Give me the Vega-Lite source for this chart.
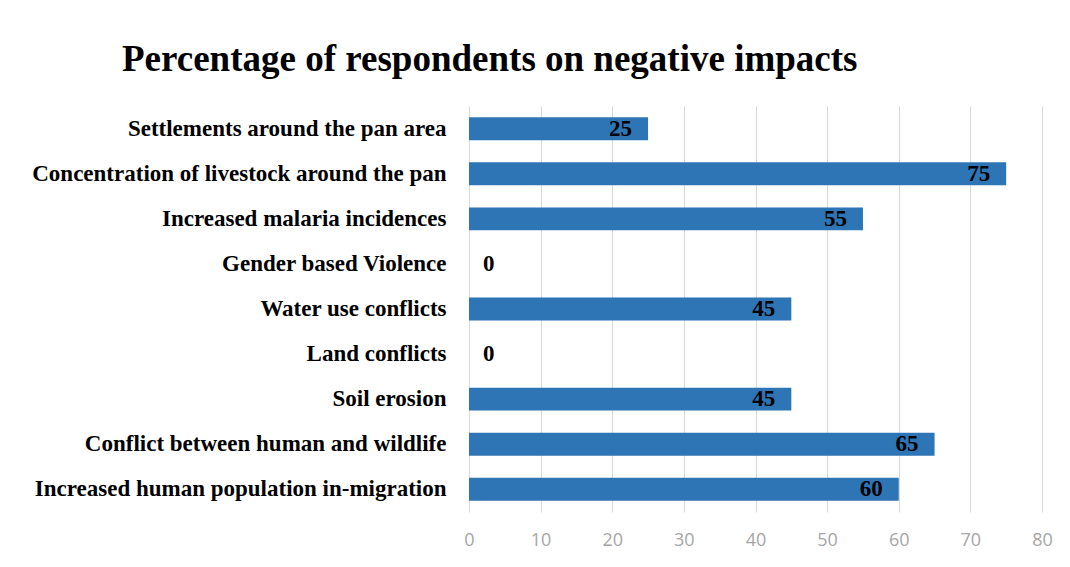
{
  "$schema": "https://vega.github.io/schema/vega-lite/v6.json",
  "autosize": {"type": "none"},
  "width": 573,
  "height": 406,
  "padding": {"left": 469, "top": 106, "right": 28, "bottom": 55},
  "background": "white",
  "config": {"view": {"stroke": null}},
  "data": {"values": [
    {"impact": "Settlements around the pan area", "pct": 25},
    {"impact": "Concentration of livestock around the pan", "pct": 75},
    {"impact": "Increased malaria incidences", "pct": 55},
    {"impact": "Gender based Violence", "pct": 0},
    {"impact": "Water use conflicts", "pct": 45},
    {"impact": "Land conflicts", "pct": 0},
    {"impact": "Soil erosion", "pct": 45},
    {"impact": "Conflict between human and wildlife", "pct": 65},
    {"impact": "Increased human population in-migration", "pct": 60}
  ]},
  "title": {
    "text": "Percentage of respondents on negative impacts",
    "anchor": "start",
    "frame": "group",
    "dx": -347,
    "offset": -2,
    "baseline": "alphabetic",
    "font": "Liberation Serif",
    "fontSize": 37,
    "fontWeight": "bold",
    "color": "#000000"
  },
  "encoding": {
    "y": {
      "field": "impact", "type": "nominal", "sort": null,
      "scale": {"paddingInner": 0.49, "paddingOuter": 0.25},
      "axis": {
        "title": null, "ticks": false, "domain": false, "labelPadding": 23,
        "labelFont": "Liberation Serif", "labelFontSize": 23, "labelFontWeight": "bold",
        "labelColor": "#000000", "labelLimit": 500
      }
    }
  },
  "layer": [
    {
      "mark": {"type": "bar", "color": "#2E75B6"},
      "encoding": {
        "x": {
          "field": "pct", "type": "quantitative",
          "scale": {"domain": [0, 80]},
          "axis": {
            "title": null, "values": [0, 10, 20, 30, 40, 50, 60, 70, 80],
            "ticks": false, "domain": false, "grid": true, "gridColor": "#d9d9d9",
            "labelFlush": false,
            "labelPadding": 19, "labelFont": "Open Sans", "labelFontSize": 18,
            "labelColor": "#a6a6a6"
          }
        }
      }
    },
    {
      "transform": [{"filter": "datum.pct > 0"}],
      "mark": {"type": "text", "align": "right", "dx": -16, "baseline": "middle",
               "font": "Liberation Serif", "fontSize": 23, "fontWeight": "bold", "color": "#000000"},
      "encoding": {
        "x": {"field": "pct", "type": "quantitative"},
        "text": {"field": "pct", "type": "quantitative"}
      }
    },
    {
      "transform": [{"filter": "datum.pct == 0"}],
      "mark": {"type": "text", "align": "left", "dx": 14, "baseline": "middle",
               "font": "Liberation Serif", "fontSize": 23, "fontWeight": "bold", "color": "#000000"},
      "encoding": {
        "x": {"field": "pct", "type": "quantitative"},
        "text": {"field": "pct", "type": "quantitative"}
      }
    }
  ]
}
